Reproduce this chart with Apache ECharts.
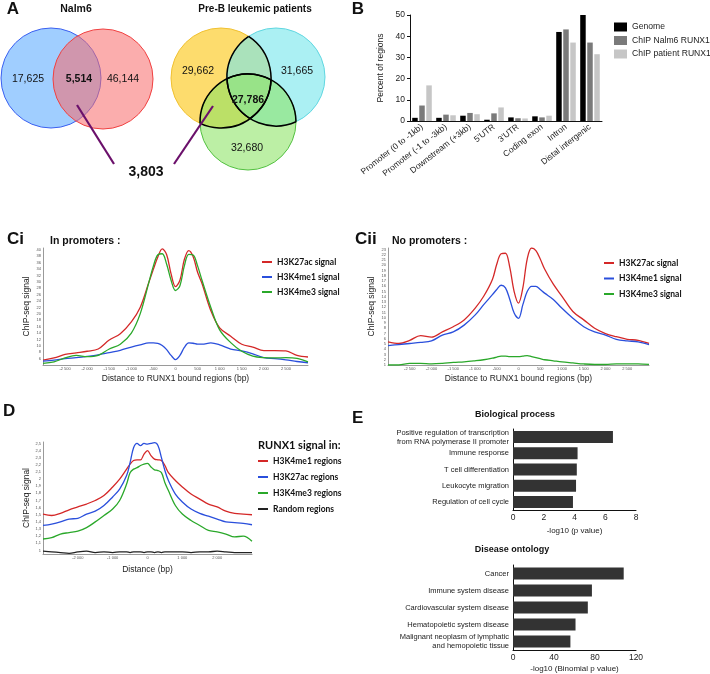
<!DOCTYPE html>
<html><head><meta charset="utf-8">
<script src="https://cdn.jsdelivr.net/npm/echarts@6/dist/echarts.min.js"></script>
<style>html,body{margin:0;padding:0;background:#fff}#c{width:710px;height:674px}</style>
</head><body><div id="c"></div>
<script>
// ---------- Panel A (Venn counts) ----------
const nalm6Counts = ['17,625', '5,514', '46,144'];
const patientCounts = ['29,662', '31,665', '27,786', '32,680'];
const sharedCount = '3,803';

// ---------- Panel B ----------
const regionCats = ['Promoter (0 to -1kb)', 'Promoter (-1 to -3kb)', 'Downstream (+3kb)', "5'UTR", "3'UTR", 'Coding exon', 'Intron', 'Distal intergenic'];
const genomePct = [1.5, 1.5, 2.5, 0.6, 1.7, 2.2, 42, 50];
const nalm6Pct = [7.3, 3.0, 3.8, 3.6, 1.3, 1.7, 43.2, 37];
const patientPct = [16.8, 2.7, 3.2, 6.4, 1.2, 2.5, 37, 31.5];

// ---------- Panels C / D (distance in bp) ----------
const distances = [-3000,-2750,-2500,-2250,-2000,-1750,-1500,-1250,-1000,-800,-600,-500,-400,-300,-200,-100,0,100,200,300,400,500,600,800,1000,1250,1500,1750,2000,2250,2500,2750,3000];

const ciK27ac = [5.5,6.2,7.3,7.8,8.3,9.0,11.8,13.8,17.5,22,30,34,37.8,40.3,38.5,32.5,28.5,30.5,37,39.8,37.9,33,29.5,21,15.6,13,10.5,9.6,8.5,8.5,8.4,7.0,6.5];
const ciK4me1 = [5.2,5.5,6,6.3,6.7,7.2,7.9,8.6,9.6,10.3,10.9,10.9,10.8,10.1,8.8,7,5.7,7,9.5,10.9,10.8,10.5,10.5,10.9,10.3,9.0,8.4,7.5,6.3,6.0,5.6,5.1,4.7];
const ciK4me3 = [4.5,5,6.2,7,6.6,7,9,10.5,14,20,30,35,38.5,38.8,35.5,30.5,27.3,28.8,35,38.6,38.4,35,30.5,22,15,11,8.3,6.8,6.3,6.2,6.3,6.1,5];

const ciiK27ac = [5.4,5.1,5.7,6.6,6.3,7.3,8.3,9.6,11.8,14.1,17.3,20.2,22.2,22.3,19.6,15,12.8,15.7,21.2,23.3,22.8,21.2,19.3,16.4,14.1,11.2,9.6,8,7,6.4,5.9,5.7,5.1];
const ciiK4me1 = [4.7,4.9,5.1,5.3,5.6,6.7,7.3,8.6,10.5,12.5,14.4,15.4,16.2,15.7,13.5,10.9,9.9,12.5,15,16,16,15.4,14.7,13.5,11.8,9.9,8.3,7.3,6.7,5.9,5.6,5.4,4.9];
const ciiK4me3 = [1.0,1.0,1.3,1.3,1.2,1.3,1.5,1.6,1.8,2.0,2.3,2.5,2.7,2.7,2.6,2.6,2.6,2.7,2.8,2.6,2.4,2.2,2.0,1.8,1.6,1.4,1.2,1.1,1.1,1.2,1.2,1.2,1.1];

const dK4me1 = [1.51,1.49,1.52,1.57,1.61,1.65,1.70,1.77,1.89,2.0,2.14,2.21,2.26,2.27,2.27,2.35,2.40,2.33,2.28,2.27,2.26,2.19,2.09,1.98,1.89,1.79,1.72,1.65,1.61,1.55,1.52,1.51,1.50];
const dK27ac = [1.35,1.37,1.40,1.44,1.45,1.51,1.55,1.63,1.75,1.86,2.05,2.23,2.44,2.5,2.47,2.5,2.49,2.5,2.51,2.47,2.30,2.12,1.98,1.79,1.68,1.58,1.52,1.48,1.44,1.40,1.39,1.38,1.36];
const dK4me3 = [1.16,1.18,1.23,1.25,1.27,1.32,1.40,1.49,1.58,1.70,1.93,2.09,2.14,2.16,2.19,2.21,2.22,2.17,2.13,2.12,2.09,1.95,1.84,1.63,1.51,1.42,1.35,1.28,1.26,1.23,1.19,1.20,1.13];
const dRandom = [0.99,0.98,0.97,0.96,0.98,0.99,0.97,0.98,0.97,0.98,0.98,0.97,0.98,0.98,0.98,0.97,0.98,0.98,0.97,0.98,0.97,0.98,0.98,0.98,0.98,0.97,0.98,0.98,0.99,0.98,0.97,0.97,0.97];

// ---------- Panel E ----------
const bioCats = ['Positive regulation of transcription\nfrom RNA polymerase II promoter', 'Immune response', 'T cell differentiation', 'Leukocyte migration', 'Regulation of cell cycle'];
const bioVals = [6.5, 4.2, 4.15, 4.1, 3.9];
const disCats = ['Cancer', 'Immune system disease', 'Cardiovascular system disease', 'Hematopoietic system disease', 'Malignant neoplasm of lymphatic\nand hemopoietic tissue'];
const disVals = [108, 77, 73, 61, 56];

// ================= build =================
const FONT = 'Liberation Sans';
const RED = '#d42828', BLUE = '#2a4fdc', GREEN = '#2aa82a';
const pairs = arr => distances.map((d, i) => [d, arr[i]]);
const kfmt = v => {
  if (v === 0) return '0';
  const a = Math.abs(v), s = v < 0 ? '-' : '';
  if (a >= 1000) { const r = a % 1000; return s + Math.floor(a / 1000) + ' ' + String(r).padStart(3, '0'); }
  return s + a;
};

// Venn geometry
const vennNalm6 = [
  { cx: 51, cy: 78, r: 50, fill: 'rgba(120,185,255,0.7)', stroke: '#3a5ff0' },
  { cx: 103, cy: 79, r: 50, fill: 'rgba(248,105,105,0.55)', stroke: '#f04040' }
];
const vennPatients = [
  { cx: 221, cy: 78, r: 50, fill: 'rgba(252,208,60,0.75)', stroke: '#f0c030' },
  { cx: 276, cy: 77, r: 49, fill: 'rgba(120,230,236,0.62)', stroke: '#5fd6e0' },
  { cx: 248, cy: 122, r: 48, fill: 'rgba(140,228,100,0.58)', stroke: '#52c040' }
];
const graphics = [];
[...vennNalm6, ...vennPatients].forEach(c => {
  graphics.push({ type: 'circle', z: 1, shape: { cx: c.cx, cy: c.cy, r: c.r }, style: { fill: c.fill, stroke: c.stroke, lineWidth: 1 } });
});
vennPatients.forEach((a, i) => {
  vennPatients.forEach((b, j) => {
    if (i === j) return;
    const dx = b.cx - a.cx, dy = b.cy - a.cy, d = Math.hypot(dx, dy);
    if (d >= a.r + b.r) return;
    const phi = Math.atan2(dy, dx);
    const alpha = Math.acos((d * d + a.r * a.r - b.r * b.r) / (2 * d * a.r));
    graphics.push({ type: 'arc', z: 2, shape: { cx: a.cx, cy: a.cy, r: a.r, startAngle: phi - alpha, endAngle: phi + alpha, clockwise: true }, style: { stroke: '#000', fill: 'none', lineWidth: 1.5 } });
  });
});
const txt = (x, y, text, size, weight, align, family) => ({ type: 'text', z: 5, x, y, style: { text, fontSize: size, fontWeight: weight || 'normal', fontFamily: family || FONT, fill: '#111', align: align || 'center', verticalAlign: 'middle' } });
graphics.push(
  { type: 'line', z: 4, shape: { x1: 77, y1: 105, x2: 114, y2: 164 }, style: { stroke: '#6b106b', lineWidth: 2.2 } },
  { type: 'line', z: 4, shape: { x1: 213, y1: 106, x2: 174, y2: 164 }, style: { stroke: '#6b106b', lineWidth: 2.2 } },
  txt(13, 9, 'A', 17, 'bold'),
  txt(76, 9, 'Nalm6', 10.5, 'bold'),
  txt(255, 9, 'Pre-B leukemic patients', 10, 'bold'),
  txt(28, 79, nalm6Counts[0], 10.5),
  txt(79, 79, nalm6Counts[1], 10.5, 'bold'),
  txt(123, 79, nalm6Counts[2], 10.5),
  txt(198, 71, patientCounts[0], 10.5),
  txt(297, 71, patientCounts[1], 10.5),
  txt(248, 100, patientCounts[2], 10.5, 'bold'),
  txt(247, 148, patientCounts[3], 10.5),
  txt(146, 172, sharedCount, 14, 'bold'),
  txt(358, 9, 'B', 17, 'bold'),
  txt(7, 239, 'Ci', 17, 'bold', 'left'),
  txt(50, 241, 'In promoters :', 10.5, 'bold', 'left'),
  txt(355, 239, 'Cii', 17, 'bold', 'left'),
  txt(392, 241, 'No promoters :', 10.5, 'bold', 'left'),
  txt(3, 411, 'D', 17, 'bold', 'left'),
  txt(352, 418, 'E', 17, 'bold', 'left'),
  txt(258, 445, 'RUNX1 signal in:', 11, 'bold', 'left', 'Lato'),
  txt(515, 415, 'Biological process', 9, 'bold'),
  txt(512, 550, 'Disease ontology', 9, 'bold')
);

const axLabel = { fontFamily: FONT, color: '#222', fontSize: 8.5 };
const blackLine = { show: true, onZero: false, lineStyle: { color: '#111', width: 1 } };
const grayLine = { show: true, onZero: false, lineStyle: { color: '#9a9a9a', width: 1 } };
const tinyLbl = { fontSize: 4, color: '#555', fontFamily: FONT, margin: 2 };

function curveX(grid, name, interval, gap) {
  return { type: 'value', gridIndex: grid, min: -3000, max: 3000, interval, axisLine: grayLine, axisTick: { show: false }, splitLine: { show: false },
    axisLabel: Object.assign({}, tinyLbl, { showMinLabel: false, showMaxLabel: false, formatter: kfmt }),
    name, nameLocation: 'middle', nameGap: gap, nameTextStyle: { fontSize: 8.5, color: '#222', fontFamily: FONT } };
}
function curveY(grid, min, max, interval, gap, extra) {
  return { type: 'value', gridIndex: grid, min, max, interval, axisLine: grayLine, axisTick: { show: false }, splitLine: { show: false },
    axisLabel: Object.assign({}, tinyLbl, extra || {}),
    name: 'ChIP-seq signal', nameLocation: 'middle', nameGap: gap, nameTextStyle: { fontSize: 8.5, color: '#222', fontFamily: FONT } };
}
const lineS = (name, grid, arr, color) => ({ type: 'line', name, xAxisIndex: grid, yAxisIndex: grid, data: pairs(arr), smooth: 0.35, showSymbol: false, symbol: 'none', lineStyle: { color, width: 1.3 }, itemStyle: { color }, animation: false, silent: true });
const legendLine = (data, left, top, gap) => ({ data, left, top, padding: 0, orient: 'vertical', icon: 'rect', itemWidth: 10, itemHeight: 2, itemGap: gap, selectedMode: false, textStyle: { fontFamily: 'Lato', fontWeight: 'bold', fontSize: 8.5, lineHeight: 10, color: '#111' } });

const option = {
  animation: false,
  textStyle: { fontFamily: FONT },
  graphic: graphics,
  grid: [
    { left: 410, top: 15, width: 192, height: 106 },
    { left: 43, top: 248, width: 265, height: 117 },
    { left: 388, top: 248, width: 261, height: 117 },
    { left: 43, top: 442, width: 209, height: 112 },
    { left: 513, top: 429, width: 123, height: 81 },
    { left: 513, top: 565, width: 123, height: 85 }
  ],
  legend: [
    { data: ['Genome', 'ChIP Nalm6 RUNX1', 'ChIP patient RUNX1'], left: 614, top: 22, padding: 0, orient: 'vertical', icon: 'rect', itemWidth: 13, itemHeight: 9, itemGap: 3.5, selectedMode: false, textStyle: { fontSize: 8.6, lineHeight: 10, color: '#222', fontFamily: FONT } },
    legendLine(['H3K27ac signal', 'H3K4me1 signal', 'H3K4me3 signal'], 262, 257, 5),
    legendLine(['H3K27ac signal', 'H3K4me1 signal', 'H3K4me3 signal'], 604, 258, 5.5),
    legendLine(['H3K4me1 regions', 'H3K27ac regions', 'H3K4me3 regions', 'Random regions'], 258, 456, 6)
  ],
  xAxis: [
    { type: 'category', gridIndex: 0, data: regionCats, axisLine: blackLine, axisTick: { alignWithLabel: true, length: 3, lineStyle: { color: '#111' } },
      axisLabel: Object.assign({}, axLabel, { rotate: 38, interval: 0, margin: 5 }) },
    curveX(1, 'Distance to RUNX1 bound regions (bp)', 500, 9),
    curveX(2, 'Distance to RUNX1 bound regions (bp)', 500, 9),
    curveX(3, 'Distance (bp)', 1000, 11.5),
    { type: 'value', gridIndex: 4, min: 0, max: 8, interval: 2, axisLine: blackLine, axisTick: { length: 3, lineStyle: { color: '#111' } }, splitLine: { show: false },
      axisLabel: Object.assign({}, axLabel, { margin: 3 }), name: '-log10 (p value)', nameLocation: 'middle', nameGap: 17, nameTextStyle: { fontSize: 8, color: '#222', fontFamily: FONT } },
    { type: 'value', gridIndex: 5, min: 0, max: 120, interval: 40, axisLine: blackLine, axisTick: { length: 3, lineStyle: { color: '#111' } }, splitLine: { show: false },
      axisLabel: Object.assign({}, axLabel, { margin: 3 }), name: '-log10 (Binomial p value)', nameLocation: 'middle', nameGap: 14.5, nameTextStyle: { fontSize: 8, color: '#222', fontFamily: FONT } }
  ],
  yAxis: [
    { type: 'value', gridIndex: 0, min: 0, max: 50, interval: 10, axisLine: blackLine, axisTick: { show: true, length: 3, lineStyle: { color: '#111' } }, splitLine: { show: false },
      axisLabel: Object.assign({}, axLabel, { margin: 5 }), name: 'Percent of regions', nameLocation: 'middle', nameGap: 25, nameTextStyle: { fontSize: 8.5, color: '#222', fontFamily: FONT } },
    curveY(1, 4, 40.6, 2, 11.5, { showMinLabel: false, showMaxLabel: false }),
    curveY(2, 1, 23.3, 1, 11.5, { showMaxLabel: false }),
    curveY(3, 0.95, 2.52, 0.05, 7, { showMaxLabel: false, formatter: v => { const t = Math.round(v * 100); return t % 10 ? '' : String(t / 100).replace('.', ','); } }),
    { type: 'category', gridIndex: 4, inverse: true, data: bioCats, axisLine: blackLine, axisTick: { alignWithLabel: true, length: 3, lineStyle: { color: '#111' } },
      axisLabel: Object.assign({}, axLabel, { fontSize: 7.5, lineHeight: 9, margin: 4, interval: 0 }) },
    { type: 'category', gridIndex: 5, inverse: true, data: disCats, axisLine: blackLine, axisTick: { alignWithLabel: true, length: 3, lineStyle: { color: '#111' } },
      axisLabel: Object.assign({}, axLabel, { fontSize: 7.5, lineHeight: 9, margin: 4, interval: 0 }) }
  ],
  series: [
    { type: 'bar', name: 'Genome', xAxisIndex: 0, yAxisIndex: 0, data: genomePct, barWidth: 5.5, barGap: '28%', itemStyle: { color: '#000' } },
    { type: 'bar', name: 'ChIP Nalm6 RUNX1', xAxisIndex: 0, yAxisIndex: 0, data: nalm6Pct, barWidth: 5.5, barGap: '28%', itemStyle: { color: '#7a7a7a' } },
    { type: 'bar', name: 'ChIP patient RUNX1', xAxisIndex: 0, yAxisIndex: 0, data: patientPct, barWidth: 5.5, barGap: '28%', itemStyle: { color: '#c6c6c6' } },
    lineS('H3K27ac signal', 1, ciK27ac, RED),
    lineS('H3K4me1 signal', 1, ciK4me1, BLUE),
    lineS('H3K4me3 signal', 1, ciK4me3, GREEN),
    lineS('H3K27ac signal', 2, ciiK27ac, RED),
    lineS('H3K4me1 signal', 2, ciiK4me1, BLUE),
    lineS('H3K4me3 signal', 2, ciiK4me3, GREEN),
    lineS('H3K4me1 regions', 3, dK4me1, RED),
    lineS('H3K27ac regions', 3, dK27ac, BLUE),
    lineS('H3K4me3 regions', 3, dK4me3, GREEN),
    lineS('Random regions', 3, dRandom, '#222'),
    { type: 'bar', xAxisIndex: 4, yAxisIndex: 4, data: bioVals, barWidth: 12, itemStyle: { color: '#333' } },
    { type: 'bar', xAxisIndex: 5, yAxisIndex: 5, data: disVals, barWidth: 12, itemStyle: { color: '#333' } }
  ]
};
const chart = echarts.init(document.getElementById('c'), null, { renderer: 'canvas' });
chart.setOption(option);
</script>
</body></html>
